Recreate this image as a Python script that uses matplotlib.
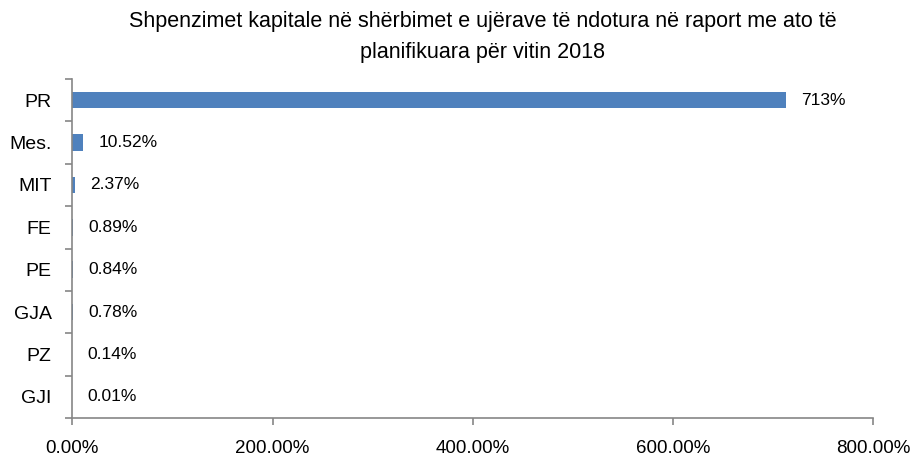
import matplotlib
matplotlib.use("Agg")
import matplotlib.pyplot as plt
from matplotlib.ticker import FuncFormatter

plt.rcParams['font.family'] = ['Liberation Sans', 'DejaVu Sans']

categories = ['PR', 'Mes.', 'MIT', 'FE', 'PE', 'GJA', 'PZ', 'GJI']
values = [713, 10.52, 2.37, 0.89, 0.84, 0.78, 0.14, 0.01]
labels = ['713%', '10.52%', '2.37%', '0.89%', '0.84%', '0.78%', '0.14%', '0.01%']
xticks = [0, 200, 400, 600, 800]

fig = plt.figure(figsize=(9.11, 4.58), dpi=100)
ax = fig.add_axes([0.0794, 0.0873, 0.879, 0.7402])

pos = list(range(len(categories)))
ax.barh(pos, values, height=0.39, color='#4F81BD')
for p, v, lab in zip(pos, values, labels):
    ax.annotate(lab, (v, p), xytext=(11, 0), textcoords='offset points',
                va='center', ha='left', fontsize=12.5)

ax.set_ylim(len(categories) - 0.5, -0.5)
ax.set_xlim(0, 800)
ax.set_xticks(xticks)
ax.xaxis.set_major_formatter(FuncFormatter(lambda x, _: f'{x:.2f}%'))
ax.set_yticks(pos)
ax.set_yticklabels(categories)
ax.set_yticks([p - 0.5 for p in pos] + [len(categories) - 0.5], minor=True)
ax.tick_params(axis='y', which='major', length=0, pad=15, labelsize=14)
ax.tick_params(axis='y', which='minor', length=5, color='#868686', width=1.2)
ax.tick_params(axis='x', length=5, color='#868686', width=1.2, labelsize=13.5, pad=11)

for s in ['top', 'right']:
    ax.spines[s].set_visible(False)
for s in ['left', 'bottom']:
    ax.spines[s].set_color('#868686')
    ax.spines[s].set_linewidth(1.2)

fig.suptitle('Shpenzimet kapitale në shërbimet e ujërave të ndotura në raport me ato të\nplanifikuara për vitin 2018',
             x=0.53, y=0.975, fontsize=15.5, linespacing=1.6)

fig.savefig('out.png', dpi=100)
